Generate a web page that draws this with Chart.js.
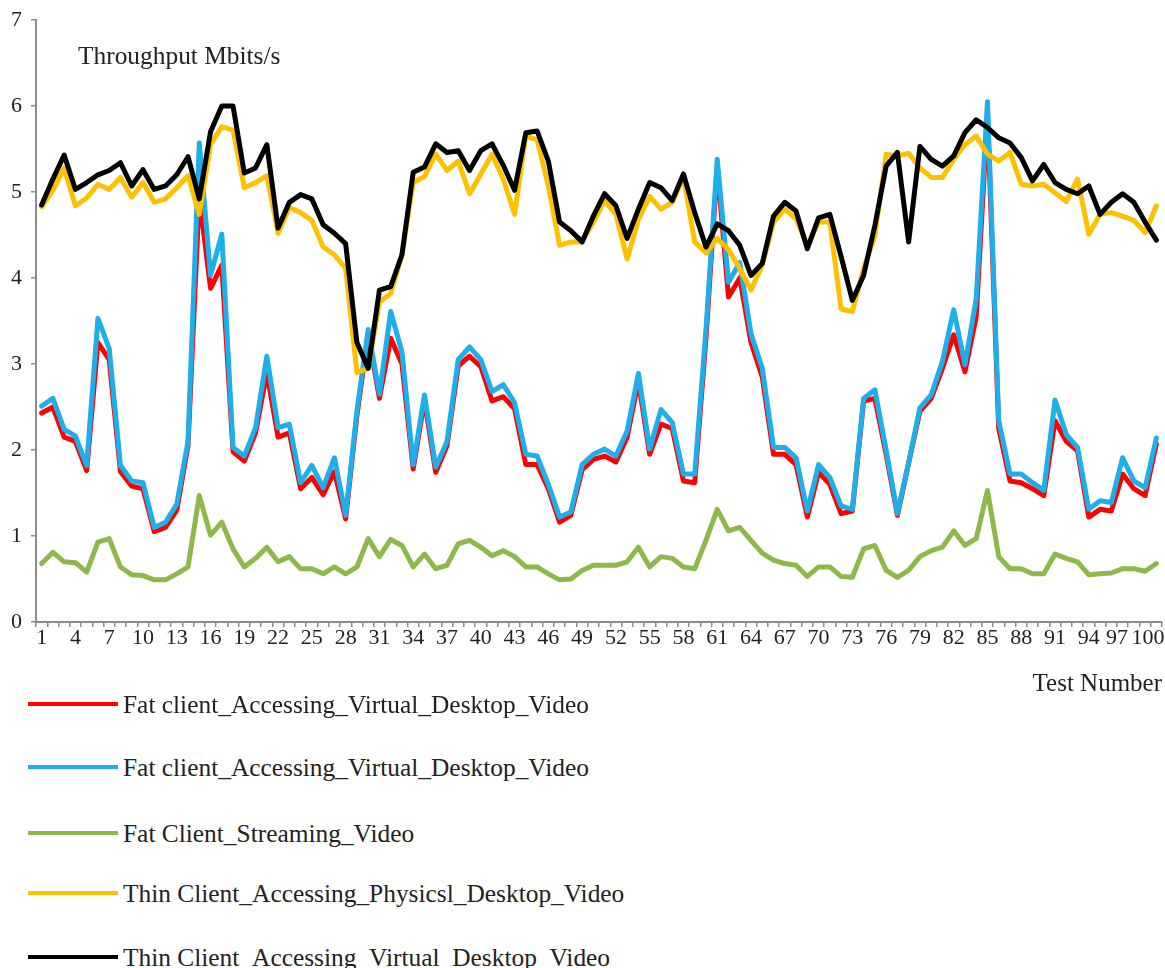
<!DOCTYPE html>
<html>
<head>
<meta charset="utf-8">
<script src="https://cdn.jsdelivr.net/npm/chart.js@4.4.1/dist/chart.umd.min.js"></script>
<style>
  html, body { margin: 0; padding: 0; background: #fff; overflow: hidden; width: 1165px; height: 968px; }
  #wrap { position: absolute; left: 0; top: 0; width: 1185px; height: 700px; }
  .serif { font-family: "Liberation Serif", "Times New Roman", serif; color: #222; }
  #ytitle { position: absolute; left: 78px; top: 40px; font-size: 25.4px; line-height: 30px; white-space: nowrap; }
  .item { position: absolute; left: 0; height: 30px; }
  .item .swatch { position: absolute; left: 28px; top: 13px; width: 90px; height: 4px; }
  .item .txt { position: absolute; left: 123px; top: 0; font-size: 25.4px; line-height: 30px; white-space: nowrap; }
</style>
</head>
<body>
<div id="wrap"><canvas id="chart"></canvas></div>
<div id="ytitle" class="serif">Throughput Mbits/s</div>
<div id="legend" class="serif"></div>
<script>
// 測試編號
const testNumbers = Array.from({ length: 100 }, (_, i) => String(i + 1));

const fatVirtualRed = [
  2.43, 2.50, 2.15, 2.10, 1.76, 3.25, 3.05, 1.75, 1.58, 1.55,
  1.05, 1.10, 1.30, 2.05, 4.95, 3.88, 4.15, 1.98, 1.87, 2.20,
  2.90, 2.15, 2.20, 1.55, 1.68, 1.48, 1.75, 1.20, 2.40, 3.35,
  2.60, 3.30, 3.00, 1.78, 2.58, 1.74, 2.05, 2.98, 3.09, 2.97,
  2.57, 2.62, 2.48, 1.83, 1.83, 1.55, 1.16, 1.24, 1.77, 1.89,
  1.93, 1.86, 2.15, 2.80, 1.95, 2.30, 2.25, 1.64, 1.62, 3.30,
  5.30, 3.78, 4.00, 3.25, 2.85, 1.95, 1.95, 1.83, 1.22, 1.74,
  1.60, 1.26, 1.29, 2.57, 2.60, 1.95, 1.24, 1.85, 2.45, 2.60,
  2.95, 3.34, 2.91, 3.55, 5.90, 2.25, 1.64, 1.62, 1.55, 1.47,
  2.34, 2.10, 1.99, 1.22, 1.31, 1.29, 1.72, 1.55, 1.47, 2.07
];

const fatVirtualBlue = [
  2.51, 2.60, 2.24, 2.16, 1.82, 3.53, 3.18, 1.82, 1.64, 1.62,
  1.10, 1.16, 1.37, 2.10, 5.57, 4.03, 4.51, 2.03, 1.93, 2.26,
  3.09, 2.26, 2.30, 1.62, 1.82, 1.56, 1.91, 1.24, 2.45, 3.40,
  2.65, 3.61, 3.14, 1.83, 2.64, 1.80, 2.10, 3.05, 3.20, 3.05,
  2.68, 2.76, 2.55, 1.95, 1.93, 1.60, 1.22, 1.28, 1.83, 1.95,
  2.01, 1.93, 2.22, 2.89, 2.01, 2.47, 2.32, 1.72, 1.72, 3.40,
  5.38, 3.95, 4.18, 3.35, 2.95, 2.03, 2.03, 1.91, 1.29, 1.83,
  1.68, 1.35, 1.31, 2.60, 2.70, 2.00, 1.26, 1.85, 2.49, 2.64,
  3.03, 3.63, 2.99, 3.76, 6.05, 2.34, 1.72, 1.72, 1.62, 1.53,
  2.58, 2.18, 2.03, 1.31, 1.41, 1.39, 1.91, 1.64, 1.56, 2.14
];

const fatStreaming = [
  0.68, 0.81, 0.70, 0.69, 0.58, 0.93, 0.97, 0.64, 0.55, 0.54,
  0.49, 0.49, 0.56, 0.64, 1.47, 1.01, 1.16, 0.85, 0.64, 0.74,
  0.87, 0.70, 0.76, 0.62, 0.62, 0.56, 0.64, 0.56, 0.64, 0.97,
  0.76, 0.96, 0.89, 0.64, 0.79, 0.62, 0.66, 0.91, 0.95, 0.87,
  0.77, 0.83, 0.76, 0.64, 0.64, 0.56, 0.49, 0.50, 0.60, 0.66,
  0.66, 0.66, 0.70, 0.87, 0.64, 0.76, 0.74, 0.64, 0.62, 0.95,
  1.31, 1.06, 1.10, 0.95, 0.80, 0.72, 0.68, 0.66, 0.53, 0.64,
  0.64, 0.53, 0.52, 0.85, 0.89, 0.60, 0.52, 0.60, 0.76, 0.83,
  0.87, 1.06, 0.89, 0.97, 1.53, 0.76, 0.62, 0.62, 0.56, 0.56,
  0.79, 0.74, 0.70, 0.55, 0.56, 0.57, 0.62, 0.62, 0.59, 0.68
];

const thinPhysical = [
  4.83, 5.02, 5.28, 4.84, 4.93, 5.09, 5.03, 5.17, 4.94, 5.11,
  4.88, 4.92, 5.05, 5.19, 4.74, 5.55, 5.76, 5.72, 5.05, 5.11,
  5.19, 4.52, 4.82, 4.76, 4.67, 4.36, 4.27, 4.11, 2.90, 2.95,
  3.72, 3.82, 4.27, 5.11, 5.18, 5.44, 5.25, 5.36, 4.98, 5.21,
  5.44, 5.15, 4.74, 5.65, 5.61, 5.07, 4.38, 4.42, 4.42, 4.65,
  4.90, 4.74, 4.22, 4.68, 4.95, 4.80, 4.88, 5.17, 4.42, 4.29,
  4.46, 4.33, 4.11, 3.86, 4.15, 4.65, 4.80, 4.69, 4.38, 4.65,
  4.65, 3.64, 3.61, 4.11, 4.49, 5.44, 5.42, 5.45, 5.28, 5.17,
  5.17, 5.38, 5.55, 5.65, 5.44, 5.36, 5.46, 5.09, 5.07, 5.09,
  4.99, 4.89, 5.15, 4.51, 4.74, 4.76, 4.72, 4.67, 4.53, 4.84
];

const thinVirtual = [
  4.85, 5.15, 5.43, 5.03, 5.11, 5.20, 5.25, 5.34, 5.07, 5.26,
  5.03, 5.07, 5.20, 5.41, 4.92, 5.70, 6.00, 6.00, 5.22, 5.28,
  5.55, 4.58, 4.88, 4.97, 4.92, 4.62, 4.52, 4.40, 3.25, 2.95,
  3.86, 3.90, 4.27, 5.23, 5.29, 5.56, 5.46, 5.48, 5.25, 5.48,
  5.56, 5.31, 5.02, 5.69, 5.71, 5.36, 4.65, 4.55, 4.42, 4.72,
  4.98, 4.84, 4.46, 4.80, 5.11, 5.05, 4.90, 5.21, 4.76, 4.36,
  4.63, 4.55, 4.38, 4.03, 4.17, 4.72, 4.88, 4.78, 4.34, 4.70,
  4.74, 4.25, 3.74, 4.03, 4.61, 5.30, 5.46, 4.42, 5.53, 5.38,
  5.30, 5.42, 5.69, 5.84, 5.75, 5.63, 5.57, 5.40, 5.13, 5.32,
  5.11, 5.03, 4.98, 5.07, 4.74, 4.88, 4.98, 4.88, 4.65, 4.44
];

const seriesNames = [
  "Fat client_Accessing_Virtual_Desktop_Video",
  "Fat client_Accessing_Virtual_Desktop_Video",
  "Fat Client_Streaming_Video",
  "Thin Client_Accessing_Physicsl_Desktop_Video",
  "Thin Client_Accessing_Virtual_Desktop_Video"
];
const seriesColors = ["#ff0000", "#1eaeea", "#8fb84c", "#ffc000", "#000000"];
const seriesData = [fatVirtualRed, fatVirtualBlue, fatStreaming, thinPhysical, thinVirtual];

const FONT = '"Liberation Serif", "Times New Roman", serif';
const AXIS = "#8c8c8c";
const NBSP = "\u00a0";

Chart.defaults.font.family = FONT;
Chart.defaults.color = "#222";

const datasets = seriesData.map((d, k) => ({
  label: seriesNames[k],
  data: d,
  borderColor: seriesColors[k],
  backgroundColor: seriesColors[k],
  borderWidth: 5,
  pointRadius: 0,
  tension: 0,
  fill: false,
  borderJoinStyle: "round",
  borderCapStyle: "round",
  order: 5 - k // 黑線在最上層
}));

new Chart(document.getElementById("chart"), {
  type: "line",
  data: { labels: testNumbers, datasets },
  options: {
    responsive: true,
    maintainAspectRatio: false,
    animation: false,
    layout: { padding: { top: 17, right: 23, bottom: 0, left: 0 } },
    plugins: { legend: { display: false }, tooltip: { enabled: false } },
    scales: {
      x: {
        type: "category",
        offset: true,
        grid: { display: true, drawOnChartArea: false, drawTicks: true, tickLength: 5, offset: true, color: AXIS, lineWidth: 1.5 },
        border: { display: true, color: AXIS, width: 2 },
        ticks: {
          autoSkip: false,
          maxRotation: 0,
          minRotation: 0,
          padding: 0,
          color: "#222",
          font: { size: 22, lineHeight: 1 },
          callback: function (v, i) {
            if (i % 3 !== 0) return "";
            const lab = this.getLabelForValue(v);
            // 最後兩個標籤往左挪一點，避免重疊與被切掉
            const n = testNumbers.length;
            if (i === n - 1) return lab + NBSP.repeat(3);
            if (i === n - 4) return lab + NBSP.repeat(2);
            return lab;
          }
        },
        title: { display: true, text: "Test Number", align: "end", color: "#222", font: { size: 25, lineHeight: 1.2 }, padding: { top: 0, bottom: 1 } },
        afterFit: (s) => { s.height = 78; }
      },
      y: {
        min: 0,
        max: 7,
        grid: { display: true, drawOnChartArea: false, drawTicks: true, tickLength: 5, color: AXIS, lineWidth: 1.5 },
        border: { display: true, color: AXIS, width: 2 },
        ticks: { stepSize: 1, padding: 9, color: "#222", font: { size: 22, lineHeight: 1 } },
        afterFit: (s) => { s.width = 36; }
      }
    }
  }
});

// 圖例
const legendY = [704, 767, 833, 893, 957];
const legend = document.getElementById("legend");
seriesNames.forEach((name, k) => {
  const item = document.createElement("div");
  item.className = "item";
  item.style.top = (legendY[k] - 15) + "px";
  item.innerHTML = '<div class="swatch" style="background:' + seriesColors[k] + '"></div><div class="txt">' + name + "</div>";
  legend.appendChild(item);
});
</script>
</body>
</html>
